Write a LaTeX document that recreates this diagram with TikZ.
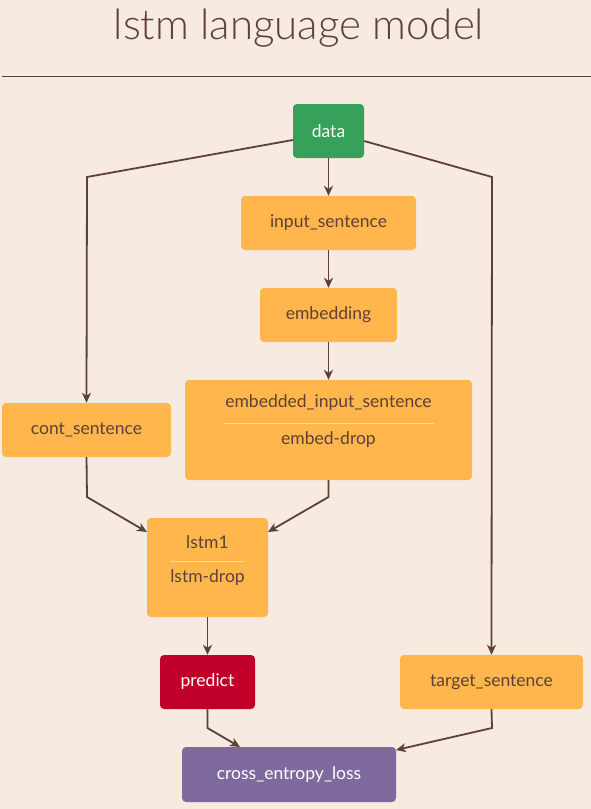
\documentclass[tikz,border=0pt]{standalone}
\usepackage{fontspec}
\setmainfont{Lato}
\newfontfamily\titlefont{Lato Light}
\usetikzlibrary{arrows.meta}
\definecolor{bg}{HTML}{F6EAE1}
\definecolor{ink}{HTML}{5D4037}
\definecolor{orange}{HTML}{FFB74D}
\definecolor{sep}{HTML}{FFD89A}
\definecolor{green}{HTML}{35A15A}
\definecolor{red}{HTML}{C00028}
\definecolor{purple}{HTML}{7F6A9E}
\tikzset{
  box/.style={rectangle, rounded corners=4pt, inner sep=0pt, font=\fontsize{17.5}{19}\selectfont, text=ink, fill=orange},
  lbl/.style={inner sep=0pt, font=\fontsize{17.5}{19}\selectfont, text=ink},
  conn/.style={draw=ink, line width=1.8pt, -{Stealth[length=10pt,width=9pt,inset=3pt]}},
  seprule/.style={draw=sep, line width=1pt}
}
\begin{document}
\begin{tikzpicture}[x=1pt,y=-1pt]
\fill[bg] (0,0) rectangle (591,809);
\useasboundingbox (0,0) rectangle (591,809);
\node[inner sep=0pt, text=ink, font=\titlefont\fontsize{42}{46}\selectfont] (title) at (299,28) {lstm language model};
\draw[ink, line width=1pt] (2,76) -- (591,76);

\node[box, fill=green, text=white, minimum width=71pt, minimum height=54pt] (data) at (328.5,131) {data};
\node[box, minimum width=175pt, minimum height=54pt] (input) at (328.5,223) {input\_sentence};
\node[box, minimum width=137pt, minimum height=54pt] (embed) at (328.5,315) {embedding};
\node[box, minimum width=287pt, minimum height=100pt] (emb) at (328.5,430) {};
\node[lbl] (embA) at (328.5,403) {embedded\_input\_sentence};
\node[lbl] (embB) at (328.5,440) {embed-drop};
\draw[seprule] (223,423) -- (434,423);
\node[box, minimum width=169pt, minimum height=54pt] (cont) at (86.5,430) {cont\_sentence};
\node[box, minimum width=121pt, minimum height=99pt] (lstm) at (207.5,567.5) {};
\node[lbl] (lstmA) at (207.5,542) {lstm1};
\node[lbl] (lstmB) at (207.5,578) {lstm-drop};
\draw[seprule] (170,561) -- (245,561);
\node[box, fill=red, text=white, minimum width=95pt, minimum height=54pt] (pred) at (207.5,682) {predict};
\node[box, minimum width=183pt, minimum height=54pt] (target) at (491.5,682) {target\_sentence};
\node[box, fill=purple, text=white, minimum width=214pt, minimum height=55pt] (loss) at (289,774.5) {cross\_entropy\_loss};

\coordinate (c1) at (87,177);
\coordinate (c2) at (492,177);
\coordinate (c3) at (87,497);
\coordinate (c4) at (328.5,497);
\coordinate (c5) at (207.5,728);
\coordinate (c6) at (492,728);
\coordinate (lstmL) at (147,532);
\coordinate (lstmR) at (268,532);
\coordinate (lossL) at (240,747);
\coordinate (lossR) at (396,750);

\draw[conn] (data.south) -- (input.north);
\draw[conn] (input.south) -- (embed.north);
\draw[conn] (embed.south) -- (emb.north);
\draw[conn] (data.west |- 0,140) -- (c1) -- (cont.north);
\draw[conn] (data.east |- 0,141) -- (c2) -- (target.north);
\draw[conn] (cont.south) -- (c3) -- (lstmL);
\draw[conn] (emb.south) -- (c4) -- (lstmR);
\draw[conn] (lstm.south) -- (pred.north);
\draw[conn] (pred.south) -- (c5) -- (lossL);
\draw[conn] (target.south |- 0,709) -- (c6) -- (lossR);
\end{tikzpicture}
\end{document}
